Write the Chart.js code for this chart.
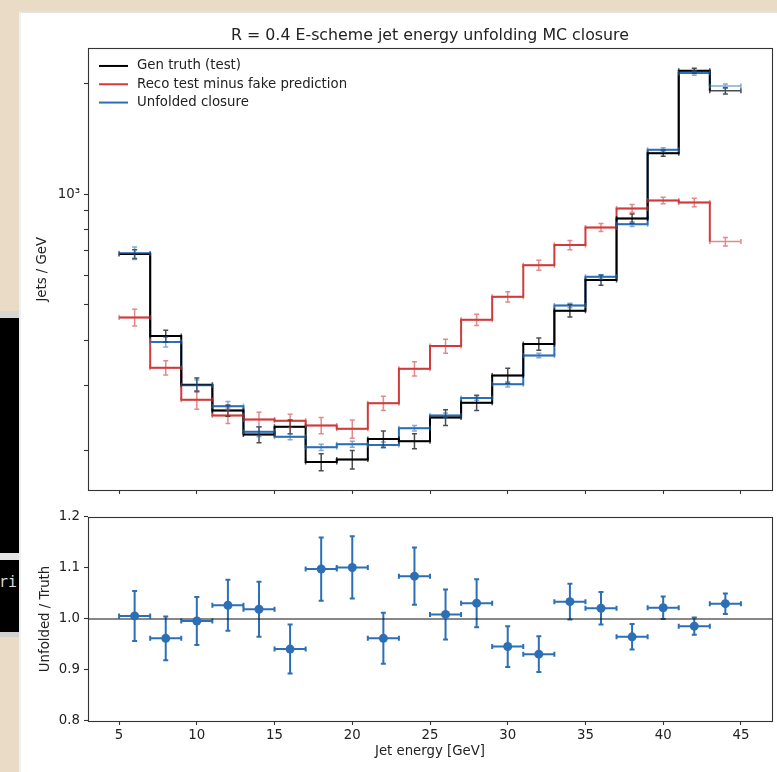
<!DOCTYPE html>
<html>
<head>
<meta charset="utf-8">
<script src="https://cdn.jsdelivr.net/npm/chart.js@4.4.0/dist/chart.umd.min.js"></script>
<style>
  body { margin: 0; width: 777px; height: 772px; overflow: hidden; position: relative; background: #e9dbc6; }
  .strip { position: absolute; left: 0; width: 19px; }
  #term1 { top: 318px; height: 235px; background: #000; }
  #gap1 { top: 311px; height: 7px; background: #d8d6d2; }
  #gap2 { top: 553px; height: 7px; background: #e4e4e4; }
  #term2 { top: 560px; height: 72px; background: #000; color: #ddd; font: 15px 'DejaVu Sans Mono'; line-height: 44px; text-indent: -1px; }
  #gap3 { top: 632px; height: 5px; background: #d0d0d0; }
  #figure { position: absolute; left: 19px; top: 11px; width: 758px; height: 761px; background: #fff;
            box-sizing: border-box; border-top: 2px solid #dfe3e6; border-left: 2px solid #edf1f3; }
  canvas { position: absolute; left: 0; }
  #topChart { top: 0; }
  #ratioChart { top: 505px; }
</style>
</head>
<body>
<div class="strip" id="gap1"></div>
<div class="strip" id="term1"></div>
<div class="strip" id="gap2"></div>
<div class="strip" id="term2">ri</div>
<div class="strip" id="gap3"></div>
<div id="figure"></div>
<canvas id="topChart" width="777" height="505"></canvas>
<canvas id="ratioChart" width="777" height="267"></canvas>
<script>
// bin edges in GeV
const binEdges = [5, 7, 9, 11, 13, 15, 17, 19, 21, 23, 25, 27, 29, 31, 33, 35, 37, 39, 41, 43, 45]

// jets / GeV
const genTruth      = [686, 410, 302, 257, 221, 232, 186, 189, 215, 212, 246, 270, 320, 390, 481, 583, 858, 1293, 2168, 1912]
const genTruthErr   = [19, 15, 13, 9, 11, 10, 10, 11, 11, 10, 12, 13, 15, 15, 19, 19, 25, 25, 34, 38]
const recoMinusFake = [461, 336, 275, 249, 243, 241, 234, 229, 269, 334, 385, 454, 525, 640, 726, 811, 914, 961, 949, 742]
const recoErr       = [24, 15, 16, 12, 11, 10, 12, 13, 12, 15, 17, 16, 17, 20, 21, 20, 23, 20, 25, 20]
const unfolded      = [690, 395, 301, 264, 225, 218, 204, 208, 207, 230, 249, 278, 303, 363, 497, 595, 828, 1321, 2138, 1970]
const unfoldedErr   = [27, 12, 10, 8, 7, 4, 4, 4, 4, 4, 4, 4, 5, 5, 7, 8, 12, 17, 28, 26]

// unfolded / truth
const ratio    = [1.006, 0.962, 0.996, 1.027, 1.019, 0.941, 1.098, 1.101, 0.962, 1.084, 1.009, 1.031, 0.946, 0.931, 1.034, 1.021, 0.965, 1.022, 0.986, 1.030]
const ratioErr = [0.049, 0.043, 0.047, 0.050, 0.054, 0.048, 0.062, 0.061, 0.050, 0.056, 0.049, 0.047, 0.040, 0.035, 0.035, 0.032, 0.025, 0.022, 0.017, 0.020]
const ratioRef = 1.0

const xTicks = [5, 10, 15, 20, 25, 30, 35, 40, 45]
const yTicksTop = [200, 300, 400, 500, 600, 700, 800, 900, 1000, 2000]
const yTicksRatio = [0.8, 0.9, 1.0, 1.1, 1.2]

const xMin = 3, xMax = 47

const BLACK = '#000000'
const RED = '#d13b3b'
const BLUE = '#2d6fb7'

Chart.defaults.font.family = "'DejaVu Sans'"
Chart.defaults.font.size = 13.3
Chart.defaults.color = '#222'
Chart.defaults.animation = false

const centers = binEdges.slice(0, -1).map((e, i) => (e + binEdges[i + 1]) / 2)
const halfWidths = binEdges.slice(0, -1).map((e, i) => (binEdges[i + 1] - e) / 2)

// histogram drawn as a post-step from the left edge of each bin
const stepPoints = vals => vals.map((v, i) => ({x: binEdges[i], y: v}))

const errorBarPlugin = {
   id: 'errorBars',
   draw(chart) {
      const ctx = chart.ctx
      const xs = chart.scales.x, ys = chart.scales.y
      chart.data.datasets.forEach(ds => {
         const eb = ds.errorBars
         if (!eb) return
         ctx.save()
         ctx.strokeStyle = eb.color
         ctx.lineWidth = eb.width
         const c = eb.cap
         eb.values.forEach((v, i) => {
            const cx = xs.getPixelForValue(centers[i])
            const x0 = xs.getPixelForValue(centers[i] - halfWidths[i])
            const x1 = xs.getPixelForValue(centers[i] + halfWidths[i])
            const y = ys.getPixelForValue(v)
            const yLo = ys.getPixelForValue(v - eb.err[i])
            const yHi = ys.getPixelForValue(v + eb.err[i])
            ctx.beginPath()
            ctx.moveTo(x0, y); ctx.lineTo(x1, y)
            ctx.moveTo(cx, yLo); ctx.lineTo(cx, yHi)
            ctx.moveTo(cx - c, yLo); ctx.lineTo(cx + c, yLo)
            ctx.moveTo(cx - c, yHi); ctx.lineTo(cx + c, yHi)
            ctx.moveTo(x0, y - c); ctx.lineTo(x0, y + c)
            ctx.moveTo(x1, y - c); ctx.lineTo(x1, y + c)
            ctx.stroke()
         })
         ctx.restore()
      })
   },
   beforeDatasetsDraw(chart, args, opts) { if (opts.under) this.draw(chart) },
   afterDatasetsDraw(chart, args, opts) { if (!opts.under) this.draw(chart) }
}

const framePlugin = {
   id: 'frame',
   afterDraw(chart) {
      const {left, top, right, bottom} = chart.chartArea
      const ctx = chart.ctx
      ctx.save()
      ctx.strokeStyle = '#333'
      ctx.lineWidth = 1.1
      ctx.strokeRect(Math.round(left) + 0.5, Math.round(top) + 0.5, Math.round(right - left), Math.round(bottom - top))
      ctx.restore()
   }
}

const legendPlugin = {
   id: 'insideLegend',
   afterDraw(chart, args, opts) {
      if (!opts.show) return
      const {left, top} = chart.chartArea
      const ctx = chart.ctx
      ctx.save()
      chart.data.datasets.forEach((ds, i) => {
         const y = top + 17.5 + i * 18.3
         ctx.strokeStyle = ds.borderColor
         ctx.lineWidth = 2
         ctx.beginPath()
         ctx.moveTo(left + 11, y); ctx.lineTo(left + 40, y)
         ctx.stroke()
         ctx.fillStyle = '#222'
         ctx.font = "13.3px 'DejaVu Sans'"
         ctx.textBaseline = 'middle'
         ctx.fillText(ds.label, left + 49, y)
      })
      ctx.restore()
   }
}

const tickGrid = {drawOnChartArea: false, tickLength: 4, color: '#333', tickWidth: 1.1}

const stepDataset = (label, vals, errs, color, errColor) => ({
   label,
   data: stepPoints(vals),
   borderColor: color,
   borderWidth: 2,
   stepped: 'before',
   pointRadius: 0,
   fill: false,
   errorBars: {values: vals, err: errs, color: errColor, width: 1.5, cap: 2.5}
})

new Chart(document.getElementById('topChart'), {
   type: 'line',
   data: {
      datasets: [
         stepDataset('Gen truth (test)', genTruth, genTruthErr, BLACK, 'rgba(0,0,0,0.7)'),
         stepDataset('Reco test minus fake prediction', recoMinusFake, recoErr, RED, 'rgba(209,59,59,0.6)'),
         stepDataset('Unfolded closure', unfolded, unfoldedErr, BLUE, 'rgba(45,111,183,0.6)')
      ]
   },
   options: {
      responsive: false,
      layout: {padding: {left: 0, right: 5, top: 0, bottom: 0}},
      scales: {
         x: {
            type: 'linear', min: xMin, max: xMax,
            afterBuildTicks: s => { s.ticks = xTicks.map(v => ({value: v})) },
            ticks: {callback: () => '', autoSkip: false, padding: 0},
            grid: tickGrid,
            border: {display: false},
            afterFit: s => { s.height = 15 }
         },
         y: {
            type: 'logarithmic', min: 156, max: 2495,
            afterBuildTicks: s => { s.ticks = yTicksTop.map(v => ({value: v})) },
            ticks: {callback: v => v === 1000 ? '10³' : '', autoSkip: false, padding: 4},
            grid: tickGrid,
            border: {display: false},
            title: {display: true, text: 'Jets / GeV', padding: {top: 35, bottom: 0}},
            afterFit: s => { s.width = 88 }
         }
      },
      plugins: {
         legend: {display: false},
         tooltip: {enabled: false},
         title: {
            display: true,
            text: 'R = 0.4 E-scheme jet energy unfolding MC closure',
            fullSize: false,
            color: '#222',
            font: {size: 15.8, weight: 'normal'},
            padding: {top: 26, bottom: 3.5}
         },
         errorBars: {under: false},
         insideLegend: {show: true}
      }
   },
   plugins: [errorBarPlugin, framePlugin, legendPlugin]
})

new Chart(document.getElementById('ratioChart'), {
   type: 'scatter',
   data: {
      datasets: [
         {
            label: 'Unfolded / Truth',
            data: ratio.map((r, i) => ({x: centers[i], y: r})),
            backgroundColor: BLUE,
            borderWidth: 0,
            pointRadius: 4.5,
            errorBars: {values: ratio, err: ratioErr, color: BLUE, width: 2, cap: 2.5}
         },
         {
            type: 'line',
            label: 'reference',
            data: [{x: xMin, y: ratioRef}, {x: xMax, y: ratioRef}],
            borderColor: '#111',
            borderWidth: 1.2,
            pointRadius: 0,
            fill: false
         }
      ]
   },
   options: {
      responsive: false,
      layout: {padding: {left: 0, right: 5, top: 10, bottom: 0}},
      scales: {
         x: {
            type: 'linear', min: xMin, max: xMax,
            afterBuildTicks: s => { s.ticks = xTicks.map(v => ({value: v})) },
            ticks: {autoSkip: false, padding: 3, maxRotation: 0},
            grid: tickGrid,
            border: {display: false},
            title: {display: true, text: 'Jet energy [GeV]', padding: {top: 0, bottom: 12}},
            afterFit: s => { s.height = 51 }
         },
         y: {
            type: 'linear', min: 0.8, max: 1.2,
            afterBuildTicks: s => { s.ticks = yTicksRatio.map(v => ({value: v})) },
            ticks: {callback: v => v.toFixed(1), autoSkip: false, padding: 4},
            grid: tickGrid,
            border: {display: false},
            title: {display: true, text: 'Unfolded / Truth', padding: {top: 38, bottom: 0}},
            afterFit: s => { s.width = 88 }
         }
      },
      plugins: {
         legend: {display: false},
         tooltip: {enabled: false},
         errorBars: {under: true},
         insideLegend: {show: false}
      }
   },
   plugins: [errorBarPlugin, framePlugin, legendPlugin]
})
</script>
</body>
</html>
